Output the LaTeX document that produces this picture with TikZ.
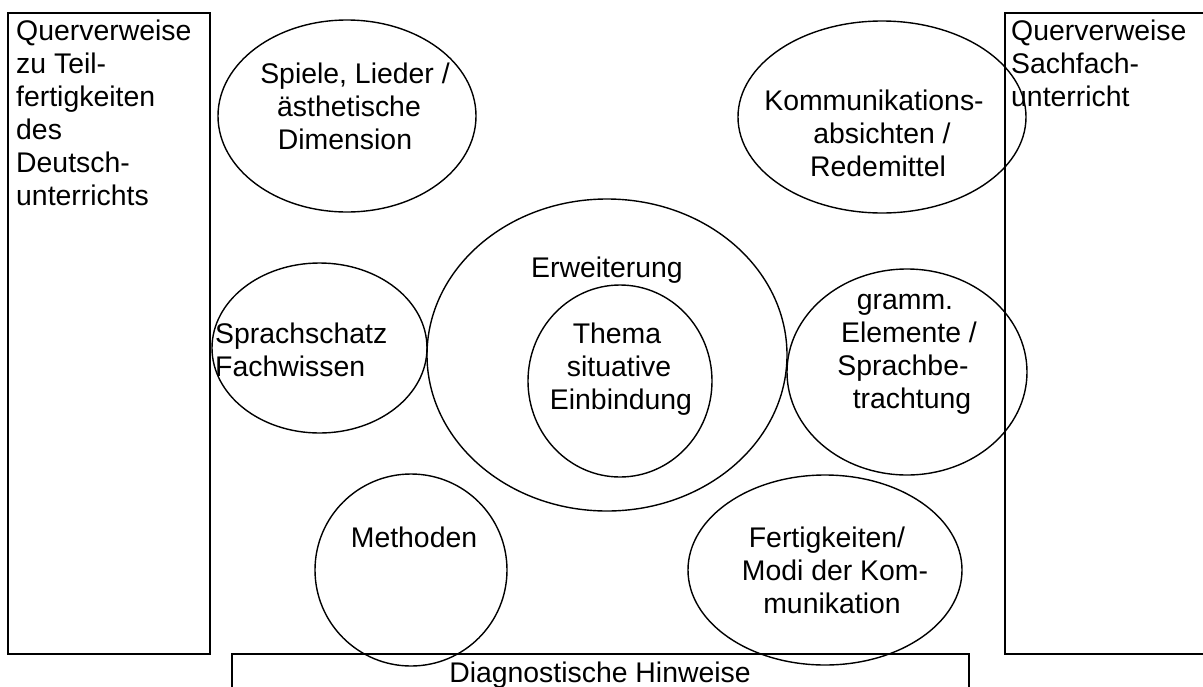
\documentclass[tikz,border=0pt]{standalone}
\usepackage{fontspec}
\setmainfont{Liberation Sans}
\usetikzlibrary{shapes.geometric}
\tikzset{
  frame/.style={draw=black, line width=2pt},
  bub/.style={draw=black, ellipse, line width=1.4pt, inner sep=0pt, minimum width=#1},
  txt/.style={inner sep=0pt, anchor=base, font=\fontsize{28.4}{33}\selectfont},
  ltxt/.style={txt, anchor=base west},
}
\begin{document}
\begin{tikzpicture}[x=1pt,y=-1pt]
\useasboundingbox (0,0) rectangle (1203,686);
\clip (0,0) rectangle (1203,686);
% side and bottom boxes
\node[frame, minimum width=202pt, minimum height=641pt, inner sep=0pt] (leftbox) at (109,333.5) {};
\node[frame, minimum width=210pt, minimum height=641pt, inner sep=0pt] (rightbox) at (1110,333.5) {};
\node[frame, minimum width=737pt, minimum height=60pt, inner sep=0pt] (diagbox) at (600.5,684) {};
% ellipses
\node[bub=258pt, minimum height=192pt] (spiele) at (347,116) {};
\node[bub=288pt, minimum height=192pt] (komm) at (882,117) {};
\node[bub=360pt, minimum height=312pt] (erw) at (607,355) {};
\node[bub=184pt, minimum height=192pt] (thema) at (620,381) {};
\node[bub=215pt, minimum height=170pt] (sprach) at (319.5,348) {};
\node[bub=240pt, minimum height=206pt] (gramm) at (907,372) {};
\node[bub=192pt, minimum height=192pt] (meth) at (411,570) {};
\node[bub=274pt, minimum height=190pt] (fert) at (825,570) {};
% texts
\node[ltxt] (l1) at (16,40) {Querverweise};
\node[ltxt] (l2) at (16,73) {zu Teil-};
\node[ltxt] (l3) at (16,106) {fertigkeiten};
\node[ltxt] (l4) at (16,139) {des};
\node[ltxt] (l5) at (16,172) {Deutsch-};
\node[ltxt] (l6) at (16,205) {unterrichts};
\node[ltxt] (r1) at (1011,40) {Querverweise};
\node[ltxt] (r2) at (1011,73) {Sachfach-};
\node[ltxt] (r3) at (1011,106) {unterricht};
\node[txt] (s1) at (355,83) {Spiele, Lieder /};
\node[txt] (s2) at (349,116) {ästhetische};
\node[txt] (s3) at (345,149) {Dimension};
\node[txt] (k1) at (874,110) {Kommunikations-};
\node[txt] (k2) at (882,143) {absichten /};
\node[txt] (k3) at (878,176) {Redemittel};
\node[txt] (e1) at (607,277) {Erweiterung};
\node[txt] (t1) at (617,343) {Thema};
\node[txt] (t2) at (619,376) {situative};
\node[txt] (t3) at (621,409) {Einbindung};
\node[ltxt] (p1) at (215,343) {Sprachschatz};
\node[ltxt] (p2) at (215,376) {Fachwissen};
\node[txt] (g1) at (905,309) {gramm.};
\node[txt] (g2) at (909,342) {Elemente /};
\node[txt] (g3) at (903,375) {Sprachbe-};
\node[txt] (g4) at (912,408) {trachtung};
\node[txt] (m1) at (414,547) {Methoden};
\node[txt] (f1) at (827,547) {Fertigkeiten/};
\node[txt] (f2) at (835,580) {Modi der Kom-};
\node[txt] (f3) at (832,613) {munikation};
\node[txt] (d1) at (600,682) {Diagnostische Hinweise};
\end{tikzpicture}
\end{document}
